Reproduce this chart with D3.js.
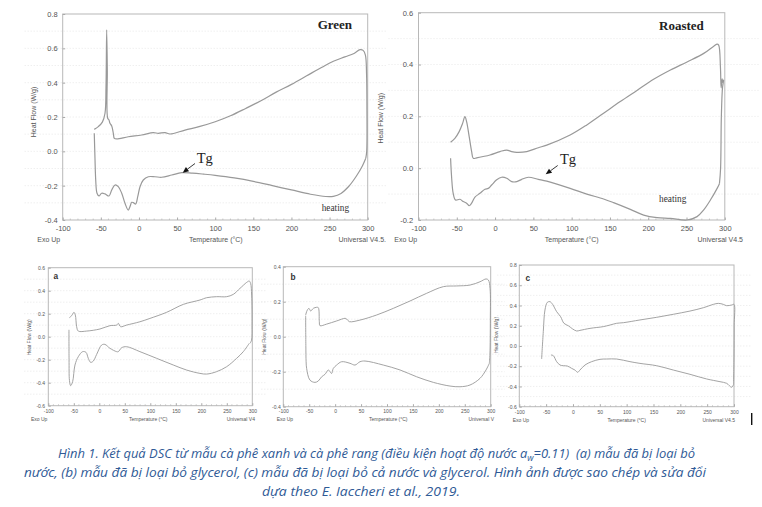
<!DOCTYPE html>
<html>
<head>
<meta charset="utf-8">
<script src="https://cdn.jsdelivr.net/npm/d3@7"></script>
<style>
	body { margin: 0; background: #fff; }
	svg { display: block; }
</style>
</head>
<body>
<svg id="fig" width="762" height="507"></svg>
<script>
// values: [temperature °C, heat flow W/g]
const tempTicks = [-100, -50, 0, 50, 100, 150, 200, 250, 300];
const greenTicks = [-0.4, -0.2, 0.0, 0.2, 0.4, 0.6, 0.8];
const roastedTicks = [-0.2, 0.0, 0.2, 0.4, 0.6];
const aTicks = [-0.6, -0.4, -0.2, 0.0, 0.2, 0.4, 0.6];
const bTicks = [-0.4, -0.2, 0.0, 0.2, 0.4];
const cTicks = [-0.6, -0.4, -0.2, 0.0, 0.2, 0.4, 0.6, 0.8];

const greenUpper = [
	[-58.6, 0.128], [-53.3, 0.144], [-48, 0.17], [-44.5, 0.222], [-43.2, 0.377], [-42.3, 0.707],
	[-41.5, 0.474], [-41, 0.193], [-39.3, 0.183], [-38, 0.163], [-35.7, 0.148], [-33.6, 0.105],
	[-32.3, 0.076], [-29.2, 0.072], [-14, 0.085], [3.6, 0.095], [18.8, 0.109], [25.4, 0.105],
	[34.2, 0.109], [40.7, 0.101], [60.4, 0.124], [80, 0.145], [100, 0.172], [120, 0.207],
	[140, 0.25], [160, 0.295], [180, 0.345], [200, 0.39], [220, 0.44], [240, 0.49], [255, 0.525],
	[270, 0.55], [282, 0.57], [290, 0.592], [294, 0.588], [297, 0.56], [298.5, 0.45],
	[299, 0.25], [298.7, 0.0], [297.5, -0.04]
];
const greenLower = [
	[-58.6, 0.105], [-57.6, -0.05], [-56.7, -0.167], [-55, -0.244], [-52.4, -0.26], [-48.9, -0.244],
	[-44.5, -0.248], [-39.3, -0.26], [-35.7, -0.225], [-31.4, -0.196], [-27.1, -0.206],
	[-22.6, -0.244], [-18.3, -0.303], [-14, -0.342], [-11.7, -0.322], [-9.5, -0.297],
	[-7.4, -0.299], [-4.3, -0.307], [-1.6, -0.264], [1.4, -0.206], [5.7, -0.167], [12.3, -0.148],
	[21, -0.148], [29.8, -0.151], [43, -0.138], [56, -0.124], [70, -0.127], [85, -0.133],
	[100, -0.14], [125, -0.155], [150, -0.175], [175, -0.2], [200, -0.225], [225, -0.25],
	[245, -0.263], [255, -0.262], [265, -0.245], [275, -0.205], [285, -0.145], [293, -0.085],
	[297.5, -0.04]
];

const roastedUpper = [
	[-58.1, 0.1], [-52.5, 0.115], [-46.9, 0.141], [-42.4, 0.173], [-39.4, 0.199], [-37.2, 0.18],
	[-33.8, 0.122], [-30.6, 0.064], [-28.5, 0.038], [-24.1, 0.04], [-6.7, 0.051], [6.4, 0.064],
	[15.2, 0.07], [21.7, 0.064], [28.3, 0.061], [41.4, 0.064], [56.5, 0.079], [67.5, 0.089],
	[98, 0.128], [119.8, 0.167], [141.7, 0.212], [163.5, 0.257], [185.3, 0.3], [207, 0.343],
	[229, 0.379], [250.7, 0.41], [272.5, 0.443], [285.6, 0.471], [290, 0.479], [292, 0.475],
	[294.3, 0.39], [295.2, 0.31], [296.5, 0.345], [297.5, 0.33], [298.5, 0.34], [297, 0.31],
	[295.5, 0.2], [294.5, 0.0], [293, -0.06]
];
const roastedLower = [
	[-58.1, 0.038], [-56.8, -0.033], [-54.7, -0.097], [-51.6, -0.123], [-45.9, -0.12],
	[-41.6, -0.129], [-37.2, -0.135], [-33.8, -0.145], [-30.6, -0.135], [-26.3, -0.112],
	[-19.8, -0.097], [-13.2, -0.081], [-8.9, -0.078], [-4.5, -0.065], [2.1, -0.045],
	[8.6, -0.035], [15.2, -0.039], [21.7, -0.052], [28.3, -0.052], [34.8, -0.043],
	[43.5, -0.035], [56.5, -0.043], [67.5, -0.05], [98, -0.078], [119.8, -0.1], [141.7, -0.119],
	[154.7, -0.133], [176.6, -0.159], [194, -0.181], [211.5, -0.191], [229, -0.194],
	[250.7, -0.2], [263.8, -0.187], [272.5, -0.161], [281.2, -0.123], [290, -0.078], [293, -0.06]
];

const aUpper = [
	[-58.8, 0.165], [-54.2, 0.183], [-49.7, 0.212], [-47, 0.188], [-44.4, 0.087], [-41.2, 0.049],
	[-24.8, 0.049], [1.3, 0.067], [20.9, 0.096], [34, 0.101], [37.3, 0.116], [41.8, 0.087],
	[53.6, 0.101], [79.7, 0.13], [99.3, 0.159], [132, 0.212], [164.7, 0.281], [197.4, 0.319],
	[210.5, 0.339], [230, 0.348], [249.7, 0.348], [262.7, 0.368], [275.8, 0.42], [288.9, 0.472],
	[294, 0.484], [296.7, 0.464], [298.7, 0.362], [299.5, 0.1], [298.5, -0.03], [295.4, -0.058]
];
const aLower = [
	[-59.5, 0.06], [-59.3, -0.2], [-58.5, -0.38], [-56.2, -0.426], [-52.3, -0.391],
	[-47.7, -0.246], [-41.2, -0.174], [-32.7, -0.13], [-26.1, -0.136], [-21.6, -0.188],
	[-17, -0.223], [-11.8, -0.212], [-5.2, -0.154], [4.6, -0.072], [11.1, -0.067],
	[20.9, -0.101], [34, -0.13], [37.3, -0.13], [43.8, -0.096], [53.6, -0.087], [79.7, -0.13],
	[112.4, -0.188], [145, -0.246], [171.2, -0.29], [197.4, -0.319], [210.5, -0.325],
	[230, -0.304], [249.7, -0.261], [269.3, -0.188], [282.4, -0.13], [294, -0.058]
];

const bUpper = [
	[-56.9, 0.124], [-53.7, 0.152], [-50.5, 0.162], [-47.3, 0.147], [-42.1, 0.162], [-35.7, 0.168],
	[-32.5, 0.166], [-30.5, 0.086], [-29.3, 0.063], [-16.4, 0.072], [2.9, 0.09], [19, 0.105],
	[22.2, 0.101], [27.3, 0.086], [47.9, 0.095], [80, 0.124], [112.2, 0.162], [144.4, 0.204],
	[176.5, 0.248], [208.7, 0.286], [234.4, 0.29], [260.1, 0.295], [279.4, 0.314], [291, 0.33],
	[295.5, 0.324], [298.7, 0.276], [299.3, 0.1], [298.5, -0.1], [297.4, -0.152]
];
const bLower = [
	[-56.9, 0.12], [-56.5, -0.05], [-56, -0.143], [-55, -0.181], [-48.6, -0.248], [-38.9, -0.261],
	[-32.5, -0.253], [-26, -0.229], [-19.6, -0.215], [-13.2, -0.19], [-10, -0.2], [-6.8, -0.21],
	[-3.5, -0.181], [2.9, -0.162], [12.5, -0.143], [28.6, -0.152], [38.3, -0.162], [47.9, -0.143],
	[57.6, -0.139], [92.9, -0.162], [125, -0.19], [157.2, -0.229], [189.4, -0.261],
	[221.5, -0.282], [240.8, -0.286], [260.1, -0.276], [279.4, -0.238], [291, -0.19],
	[297.4, -0.152]
];

const cUpper = [
	[-58.4, -0.129], [-55.3, 0.141], [-52.2, 0.355], [-47.8, 0.431], [-42.9, 0.438],
	[-37.9, 0.411], [-30.4, 0.339], [-23, 0.289], [-16.8, 0.224], [-8.7, 0.2], [-0.6, 0.168],
	[6.8, 0.148], [13, 0.154], [31.7, 0.174], [56.5, 0.191], [69, 0.207], [81.4, 0.224],
	[93.8, 0.23], [124.8, 0.257], [155.9, 0.283], [187, 0.313], [218, 0.345], [242.9, 0.378],
	[261.5, 0.411], [270.8, 0.421], [280.1, 0.411], [286.3, 0.398], [295.7, 0.405], [300, 0.411],
	[300.3, 0.2], [300, -0.1], [299.2, -0.38]
];
const cLower = [
	[-41, -0.089], [-36.6, -0.096], [-30.4, -0.155], [-24.2, -0.188], [-18, -0.195],
	[-10.6, -0.198], [-2.5, -0.221], [3.7, -0.238], [8.7, -0.26], [13, -0.238], [22.4, -0.188],
	[34.8, -0.155], [50.3, -0.132], [62.7, -0.129], [81.4, -0.129], [106.2, -0.155],
	[124.8, -0.172], [155.9, -0.195], [187, -0.238], [218, -0.28], [249, -0.326],
	[273.9, -0.353], [286.3, -0.369], [295.7, -0.408], [299.2, -0.38]
];

const captionLines = [
	['Hình 1. Kết quả DSC từ mẫu cà phê xanh và cà phê rang (điều kiện hoạt độ nước a', 'w', '=0.11)  (a) mẫu đã bị loại bỏ'],
	['nước, (b) mẫu đã bị loại bỏ glycerol, (c) mẫu đã bị loại bỏ cả nước và glycerol. Hình ảnh được sao chép và sửa đổi'],
	['dựa theo E. Iaccheri et al., 2019.']
];

const sans = '"Liberation Sans", Arial, sans-serif';
const serif = '"Liberation Serif", "Times New Roman", serif';

const panels = [
	{
		left: 62.7, right: 367.7, top: 14, bottom: 220, yDomain: [-0.4, 0.8], yTicks: greenTicks,
		traces: [greenUpper, greenLower], lw: 1.2, tickFs: 7.5, labelFs: 7, xPad: 5.5, yPad: 5,
		gridOut: [38, 20],
		exo: [37.3, 241.5], temp: [215.8, 241.5], univ: [386, 241.5, 'Universal V4.5.'], heat: [33.3, 112],
		title: ['Green', 317.7, 29], tg: [196.7, 162.7], arrow: [[195, 163.5], [182.7, 172.7]],
		heating: [321.7, 210.7]
	},
	{
		left: 418.5, right: 724.8, top: 12.7, bottom: 220, yDomain: [-0.2, 0.6], yTicks: roastedTicks,
		traces: [roastedUpper, roastedLower], lw: 1.2, tickFs: 7.5, labelFs: 7, xPad: 5.5, yPad: 5.4,
		gridOut: [30, 35],
		exo: [394.3, 241.5], temp: [571.7, 241.5], univ: [743, 241.5, 'Universal V4.5'], heat: [381, 118.3],
		title: ['Roasted', 659, 30], tg: [560, 164.3], arrow: [[557.7, 165.5], [545.7, 174.3]],
		heating: [659, 202]
	},
	{
		left: 48.3, right: 252.3, top: 267.7, bottom: 405.7, yDomain: [-0.6, 0.6], yTicks: aTicks,
		traces: [aUpper, aLower], lw: 0.9, tickFs: 5, labelFs: 5, xPad: 4, yPad: 3.3,
		gridOut: [24, 14],
		exo: [31, 421], temp: [148.3, 421], univ: [255, 421, 'Universal V4'], heat: [29.3, 337.3],
		letter: ['a', 53.5, 278.5]
	},
	{
		left: 283.3, right: 490.7, top: 266.7, bottom: 406.7, yDomain: [-0.4, 0.4], yTicks: bTicks,
		traces: [bUpper, bLower], lw: 0.9, tickFs: 5, labelFs: 5, xPad: 3, yPad: 2.6,
		gridOut: [22, 14],
		exo: [276.7, 421], temp: [388.3, 421], univ: [494, 421, 'Universal V'], heat: [264.3, 336.7],
		letter: ['b', 290.5, 279.5]
	},
	{
		left: 519.3, right: 734, top: 265, bottom: 406.7, yDomain: [-0.6, 0.8], yTicks: cTicks,
		traces: [cUpper, cLower], lw: 0.9, tickFs: 5, labelFs: 5, xPad: 3.7, yPad: 2.6,
		gridOut: [22, 18],
		exo: [512.7, 421.5], temp: [626.7, 421.5], univ: [735, 421.5, 'Universal V4.5'], heat: [496.7, 335],
		letter: ['c', 525.5, 280.5]
	}
];

const svg = d3.select('#fig');

function drawPanel(p) {
	const g = svg.append('g');
	const x = d3.scaleLinear().domain([-100, 300]).range([p.left, p.right]);
	const y = d3.scaleLinear().domain(p.yDomain).range([p.bottom, p.top]);

	// faint dotted grid, the scan shows it running past the frame
	const half = (p.yTicks[1] - p.yTicks[0]) / 2;
	const gridVals = d3.range(p.yDomain[0] + half, p.yDomain[1] - half / 2, half);
	g.selectAll('line.grid')
		.data(gridVals)
		.enter()
		.append('line')
		.attr('class', 'grid')
		.attr('x1', p.left - p.gridOut[0])
		.attr('x2', p.right + p.gridOut[1])
		.attr('y1', d => y(d))
		.attr('y2', d => y(d))
		.attr('stroke', '#e2e2e2')
		.attr('stroke-width', 0.8)
		.attr('stroke-dasharray', '1,2');

	g.append('rect')
		.attr('x', p.left)
		.attr('y', p.top)
		.attr('width', p.right - p.left)
		.attr('height', p.bottom - p.top)
		.attr('fill', 'none')
		.attr('stroke', '#b8b8b8')
		.attr('stroke-width', 1);

	const xAxis = d3.axisBottom(x)
		.tickValues(tempTicks)
		.tickFormat(d => String(d))
		.tickSize(-2.5)
		.tickPadding(p.xPad);
	g.append('g')
		.attr('transform', `translate(0,${p.bottom})`)
		.call(xAxis)
		.attr('font-size', p.tickFs)
		.attr('font-family', sans)
		.attr('color', '#555')
		.call(a => a.select('.domain').remove())
		.call(a => a.selectAll('line').attr('stroke', '#aaa'));

	const yAxis = d3.axisLeft(y)
		.tickValues(p.yTicks)
		.tickFormat(d => d.toFixed(1))
		.tickSize(-2.5)
		.tickPadding(p.yPad);
	g.append('g')
		.attr('transform', `translate(${p.left},0)`)
		.call(yAxis)
		.attr('font-size', p.tickFs)
		.attr('font-family', sans)
		.attr('color', '#555')
		.call(a => a.select('.domain').remove())
		.call(a => a.selectAll('line').attr('stroke', '#aaa'));

	// minor ticks
	const minorX = d3.range(-90, 300, 10).filter(v => v % 50 !== 0);
	g.selectAll('line.mx')
		.data(minorX)
		.enter()
		.append('line')
		.attr('x1', d => x(d)).attr('x2', d => x(d))
		.attr('y1', p.bottom).attr('y2', p.bottom - 1.5)
		.attr('stroke', '#b0b0b0').attr('stroke-width', 0.6);

	const line = d3.line()
		.x(d => x(d[0]))
		.y(d => y(d[1]))
		.curve(d3.curveCatmullRom.alpha(0.5));

	g.selectAll('path.trace')
		.data(p.traces)
		.enter()
		.append('path')
		.attr('class', 'trace')
		.attr('d', line)
		.attr('fill', 'none')
		.attr('stroke', '#999')
		.attr('stroke-width', p.lw)
		.attr('stroke-linejoin', 'round');

	const txt = (pos, s, anchor, extra) => {
		const t = g.append('text')
			.attr('x', pos[0])
			.attr('y', pos[1])
			.attr('text-anchor', anchor)
			.attr('font-family', sans)
			.attr('font-size', p.labelFs)
			.attr('fill', '#555')
			.text(s);
		if (extra) extra(t);
		return t;
	};

	txt(p.exo, 'Exo Up', 'start');
	txt(p.temp, 'Temperature (°C)', 'middle');
	txt(p.univ, p.univ[2], 'end');
	txt([0, 0], 'Heat Flow (W/g)', 'middle', t => t
		.attr('transform', `translate(${p.heat[0]},${p.heat[1]}) rotate(-90)`)
		.attr('dy', '0.35em'));

	if (p.title) {
		g.append('text')
			.attr('x', p.title[1]).attr('y', p.title[2])
			.attr('font-family', serif).attr('font-weight', 'bold')
			.attr('font-size', 13).attr('fill', '#222')
			.text(p.title[0]);
		g.append('text')
			.attr('x', p.tg[0]).attr('y', p.tg[1])
			.attr('font-family', serif).attr('font-size', 14.5).attr('fill', '#222')
			.text('Tg');
		g.append('text')
			.attr('x', p.heating[0]).attr('y', p.heating[1])
			.attr('font-family', serif).attr('font-size', 9.3).attr('fill', '#333')
			.text('heating');

		const [a, b] = p.arrow;
		const ang = Math.atan2(b[1] - a[1], b[0] - a[0]);
		const hl = 6, hw = 2.6;
		const bx = b[0] - hl * Math.cos(ang), by = b[1] - hl * Math.sin(ang);
		g.append('line')
			.attr('x1', a[0]).attr('y1', a[1]).attr('x2', bx).attr('y2', by)
			.attr('stroke', '#222').attr('stroke-width', 0.9);
		g.append('path')
			.attr('d', `M${b[0]},${b[1]}L${bx - hw * Math.sin(ang)},${by + hw * Math.cos(ang)}L${bx + hw * Math.sin(ang)},${by - hw * Math.cos(ang)}Z`)
			.attr('fill', '#111');
	}

	if (p.letter) {
		g.append('text')
			.attr('x', p.letter[1]).attr('y', p.letter[2])
			.attr('font-family', sans).attr('font-weight', 'bold')
			.attr('font-size', 8.3).attr('fill', '#333')
			.text(p.letter[0]);
	}
}

panels.forEach(drawPanel);

// stray cursor bar in the scan
svg.append('rect')
	.attr('x', 751).attr('y', 413).attr('width', 1.4).attr('height', 12)
	.attr('fill', '#111');

// caption
const capPos = [
	{ x: 376.5, y: 458, len: 637 },
	{ x: 365, y: 477, len: 682 },
	{ x: 361, y: 495.5, len: 198 }
];
captionLines.forEach((parts, i) => {
	const t = svg.append('text')
		.attr('x', capPos[i].x)
		.attr('y', capPos[i].y)
		.attr('text-anchor', 'middle')
		.attr('font-family', '"Open Sans", "Noto Sans", sans-serif')
		.attr('font-style', 'italic')
		.attr('font-size', 12.5)
		.attr('fill', '#2f5a96')
		.attr('textLength', capPos[i].len)
		.attr('lengthAdjust', 'spacingAndGlyphs')
		.style('white-space', 'pre');
	parts.forEach((s, j) => {
		const sp = t.append('tspan').text(s);
		if (parts.length > 1 && j === 1) {
			sp.attr('font-size', 8.5).attr('dy', 2.5);
		} else if (parts.length > 1 && j === 2) {
			sp.attr('dy', -2.5);
		}
	});
});
</script>
</body>
</html>
